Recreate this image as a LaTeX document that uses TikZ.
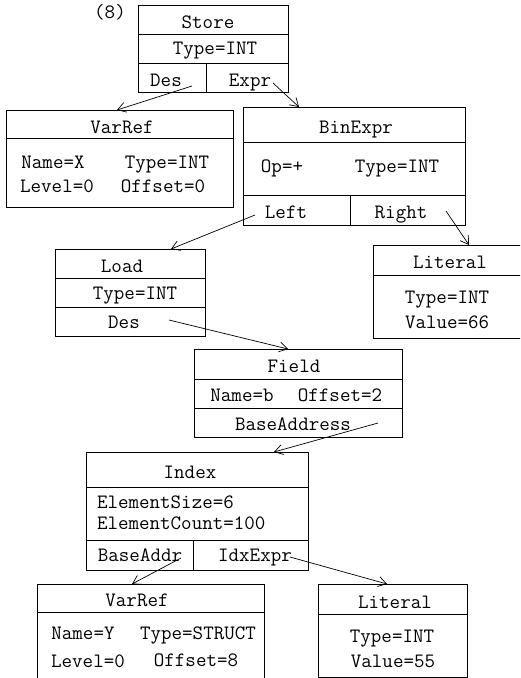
\documentclass[tikz,border=0pt]{standalone}
\usepackage{fontspec}
\usetikzlibrary{arrows.meta}
\begin{document}
\begin{tikzpicture}[x=1pt,y=-1pt,
  box/.style={draw, line width=0.8pt, rectangle, anchor=north west, inner sep=0pt},
  sep/.style={line width=0.8pt},
  lbl/.style={anchor=base, inner sep=0pt, font=\ttfamily\fontsize{20.4}{22}\selectfont},
  lbll/.style={lbl, anchor=base west},
  arr/.style={line width=0.7pt, -{Straight Barb[length=8pt,width=10pt]}}]
\useasboundingbox (0,0) rectangle (520,678);
\clip (0,0) rectangle (520,678);
\fill[white] (0,0) rectangle (520,678);

% Store
\node[lbl] (num) at (110,18) {(8)};
\node[box, minimum width=150pt, minimum height=87pt] (store) at (138,5) {};
\draw[sep] (138,34) -- (288,34) (138,63) -- (288,63) (206,63) -- (206,92);
\node[lbl] (storeT) at (208,28) {Store};
\node[lbl] (storeTy) at (215,54) {Type=INT};
\node[lbl] (storeDesT) at (166,86) {Des};
\node[lbl] (storeExT) at (250,86) {Expr};

% VarRef X
\node[box, minimum width=227pt, minimum height=97pt] (varx) at (6,110) {};
\draw[sep] (6,138) -- (233,138);
\node[lbl] (varxT) at (122,133) {VarRef};
\node[lbl] (varxN) at (53,168) {Name=X};
\node[lbl] (varxTy) at (167,168) {Type=INT};
\node[lbl] (varxL) at (57,192.5) {Level=0};
\node[lbl] (varxO) at (163,192.5) {Offset=0};

% BinExpr
\node[box, minimum width=222pt, minimum height=118pt] (bin) at (243,107) {};
\draw[sep] (243,142) -- (465,142) (243,195) -- (465,195) (350,195) -- (350,225);
\node[lbl] (binT) at (356,133) {BinExpr};
\node[lbl] (binOp) at (282,172) {Op=+};
\node[lbl] (binTy) at (397,172) {Type=INT};
\node[lbl] (binL) at (286,218) {Left};
\node[lbl] (binR) at (401,218) {Right};

% Load
\node[box, minimum width=150pt, minimum height=87pt] (load) at (55,249) {};
\draw[sep] (55,278) -- (205,278) (55,307) -- (205,307);
\node[lbl] (loadT) at (122,272) {Load};
\node[lbl] (loadTy) at (135,299) {Type=INT};
\node[lbl] (loadD) at (124,328) {Des};

% Literal 66
\node[box, minimum width=160pt, minimum height=93pt] (lit1) at (373,245) {};
\draw[sep] (373,275) -- (530,275);
\node[lbl] (lit1T) at (450,268) {Literal};
\node[lbl] (lit1Ty) at (447,303) {Type=INT};
\node[lbl] (lit1V) at (447,328) {Value=66};

% Field
\node[box, minimum width=208pt, minimum height=88pt] (field) at (194,349) {};
\draw[sep] (194,379) -- (402,379) (194,408) -- (402,408);
\node[lbl] (fieldT) at (294,372) {Field};
\node[lbl] (fieldN) at (242,401) {Name=b};
\node[lbl] (fieldO) at (340,401) {Offset=2};
\node[lbl] (fieldB) at (293,430) {BaseAddress};

% Index
\node[box, minimum width=222pt, minimum height=118pt] (index) at (86,452) {};
\draw[sep] (86,487) -- (308,487) (86,540) -- (308,540) (193,540) -- (193,570);
\node[lbl] (indexT) at (190,478) {Index};
\node[lbll] (indexS) at (97,508) {ElementSize=6};
\node[lbll] (indexC) at (97,529) {ElementCount=100};
\node[lbl] (indexB) at (140,561) {BaseAddr};
\node[lbl] (indexI) at (255,561) {IdxExpr};

% VarRef Y
\node[box, minimum width=227pt, minimum height=110pt] (vary) at (37,584) {};
\draw[sep] (37,612) -- (264,612);
\node[lbl] (varyT) at (137,606) {VarRef};
\node[lbl] (varyN) at (83,639) {Name=Y};
\node[lbl] (varyTy) at (198,639) {Type=STRUCT};
\node[lbl] (varyL) at (88,667) {Level=0};
\node[lbl] (varyO) at (196,666) {Offset=8};

% Literal 55
\node[box, minimum width=149pt, minimum height=93pt] (lit2) at (318,584) {};
\draw[sep] (318,614) -- (467,614);
\node[lbl] (lit2T) at (395,608) {Literal};
\node[lbl] (lit2Ty) at (392,642) {Type=INT};
\node[lbl] (lit2V) at (393,667) {Value=55};

% connector end points
\coordinate (a1) at (192,86);  \coordinate (b1) at (117,110);
\coordinate (a2) at (273,83);  \coordinate (b2) at (299,107);
\coordinate (a3) at (255,215); \coordinate (b3) at (171,249);
\coordinate (a4) at (446,211); \coordinate (b4) at (469,245);
\coordinate (a5) at (169,320); \coordinate (b5) at (288,349);
\coordinate (a6) at (378,423); \coordinate (b6) at (274,452);
\coordinate (a7) at (181,558); \coordinate (b7) at (132,584);
\coordinate (a8) at (290,557); \coordinate (b8) at (387,584);

\draw[arr] (a1) -- (b1);
\draw[arr] (a2) -- (b2);
\draw[arr] (a3) -- (b3);
\draw[arr] (a4) -- (b4);
\draw[arr] (a5) -- (b5);
\draw[arr] (a6) -- (b6);
\draw[arr] (a7) -- (b7);
\draw[arr] (a8) -- (b8);
\end{tikzpicture}
\end{document}
